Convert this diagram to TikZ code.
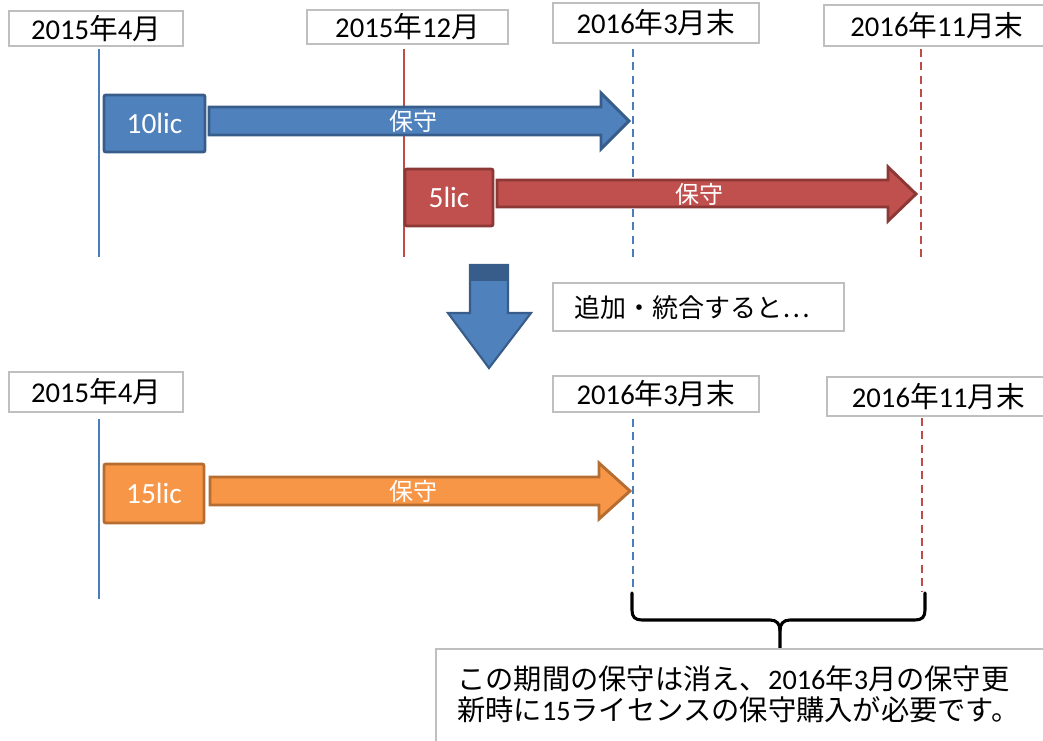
\documentclass[tikz,border=0pt]{standalone}
\usepackage{fontspec}
\setmainfont{Carlito}
\newfontfamily\jp{Noto Sans CJK JP}
\usetikzlibrary{fit}
\definecolor{lgray}{HTML}{BFBFBF}
\definecolor{bfill}{HTML}{4F81BD}
\definecolor{bdark}{HTML}{385D8A}
\definecolor{rfill}{HTML}{C0504D}
\definecolor{rdark}{HTML}{8C3836}
\definecolor{ofill}{HTML}{F79646}
\definecolor{odark}{HTML}{B66D31}
\definecolor{bline}{HTML}{4A7EBB}
\definecolor{rline}{HTML}{BE4B48}
\begin{document}
\begin{tikzpicture}[x=0.75pt,y=-0.75pt,
  lbl/.style={draw=lgray, line width=1.5pt, fill=white, inner sep=0pt},
  lbltext/.style={inner sep=0pt, font=\fontsize{21.5}{25}\selectfont},
  licbox/.style={line width=2.2pt, rounded corners=1.5pt, inner sep=0pt},
  lictext/.style={inner sep=0pt, text=white, font=\fontsize{22}{26}\selectfont},
  barrow/.style={line width=2.2pt, line join=miter},
  hoshu/.style={text=white, font=\jp\fontsize{18}{20}\selectfont},
  solidline/.style={line width=1.2pt},
  dashline/.style={line width=1.5pt, dash pattern=on 6pt off 4pt},
  bracestyle/.style={line width=2.3pt, line cap=round, line join=round}]
\useasboundingbox (0,0) rectangle (1043,740);

% ---------- top timeline ----------
\node[lbl, fit={(9,11)(183,46)}, label={[lbltext]center:2015{\jp 年}4{\jp 月}}] (t1) {};
\node[lbl, fit={(307,10)(508,44)}, label={[lbltext]center:2015{\jp 年}12{\jp 月}}] (t2) {};
\node[lbl, fit={(553,3)(759,43)}, label={[lbltext]center:2016{\jp 年}3{\jp 月末}}] (t3) {};
\node[lbl, fit={(824,5)(1050,46)}, label={[lbltext]center:2016{\jp 年}11{\jp 月末}}] (t4) {};

\coordinate (v1a) at (99,49);  \coordinate (v1b) at (99,257);
\coordinate (v2a) at (404,49); \coordinate (v2b) at (404,257);
\coordinate (v3a) at (633,49); \coordinate (v3b) at (633,262);
\coordinate (v4a) at (921,49); \coordinate (v4b) at (921,262);
\draw[solidline, bline] (v1a) -- (v1b);
\draw[solidline, rline] (v2a) -- (v2b);
\draw[dashline, bline] (v3a) -- (v3b);
\draw[dashline, rline] (v4a) -- (v4b);

% blue block arrow
\draw[barrow, draw=bdark, fill=bfill] (209,107) -- (601,107) -- (601,93) -- (629,121) -- (601,149) -- (601,135) -- (209,135) -- cycle;
\node[hoshu] (h1) at (413,121) {保守};
\node[licbox, draw=bdark, fill=bfill, fit={(104,95)(205,152)}, label={[lictext]center:10lic}] (lic10) {};

% red block arrow
\draw[barrow, draw=rdark, fill=rfill] (497,180) -- (888,180) -- (888,167) -- (916,194) -- (888,221) -- (888,207) -- (497,207) -- cycle;
\node[hoshu] (h2) at (699,194) {保守};
\node[licbox, draw=rdark, fill=rfill, fit={(405,169)(493,226)}, label={[lictext]center:5lic}] (lic5) {};

% ---------- transition ----------
\fill[bfill] (470,265) -- (508,265) -- (508,313) -- (531,313) -- (489,368) -- (448,313) -- (470,313) -- cycle;
\fill[bdark] (470,265) rectangle (508,281);
\draw[line width=1.6pt, bdark, line join=miter] (470,265) -- (508,265) -- (508,313) -- (531,313) -- (489,368) -- (448,313) -- (470,313) -- cycle;
\node[lbl, fit={(553,283)(844,331)}] (merge) {};
\node[anchor=west, inner sep=0pt, font=\jp\fontsize{19.5}{24}\selectfont] (mergetext) at (574,308) {追加・統合すると…};

% ---------- bottom timeline ----------
\node[lbl, fit={(9,372)(183,412)}, label={[lbltext]center:2015{\jp 年}4{\jp 月}}] (b1) {};
\node[lbl, fit={(553,376)(759,412)}, label={[lbltext]center:2016{\jp 年}3{\jp 月末}}] (b3) {};
\node[lbl, fit={(827,377)(1050,416)}, label={[lbltext]center:2016{\jp 年}11{\jp 月末}}] (b4) {};

\coordinate (w1a) at (99,419);  \coordinate (w1b) at (99,599);
\coordinate (w3a) at (633,419); \coordinate (w3b) at (633,592);
\coordinate (w4a) at (922,418); \coordinate (w4b) at (922,592);
\draw[solidline, bline] (w1a) -- (w1b);
\draw[dashline, bline] (w3a) -- (w3b);
\draw[dashline, rline] (w4a) -- (w4b);

% orange block arrow
\draw[barrow, draw=odark, fill=ofill] (210,477) -- (599,477) -- (599,463) -- (630,491) -- (599,519) -- (599,505) -- (210,505) -- cycle;
\node[hoshu] (h3) at (413,491) {保守};
\node[licbox, draw=odark, fill=ofill, fit={(104,464)(204,523)}, label={[lictext]center:15lic}] (lic15) {};

% brace
\coordinate (brl) at (632,593);
\coordinate (brr) at (925,593);
\coordinate (brm) at (780,648);
\draw[bracestyle] (brl) -- (632,610) .. controls (632,617) and (635,620) .. (642,620) -- (770,620) .. controls (777,620) and (780,624) .. (780,631) -- (brm);
\draw[bracestyle] (brr) -- (925,610) .. controls (925,617) and (922,620) .. (915,620) -- (790,620) .. controls (783,620) and (780,624) .. (780,631);

% note box
\draw[draw=lgray, line width=1.5pt, fill=white] (436,649) rectangle (1060,760);
\node[anchor=north west, inner sep=0pt, align=left, font=\fontsize{21.2}{23.6}\selectfont] (note) at (457,665)
  {{\jp この期間の保守は消え、}2016{\jp 年}3{\jp 月の保守更}\\{\jp 新時に}15{\jp ライセンスの保守購入が必要です。}};
\end{tikzpicture}
\end{document}
